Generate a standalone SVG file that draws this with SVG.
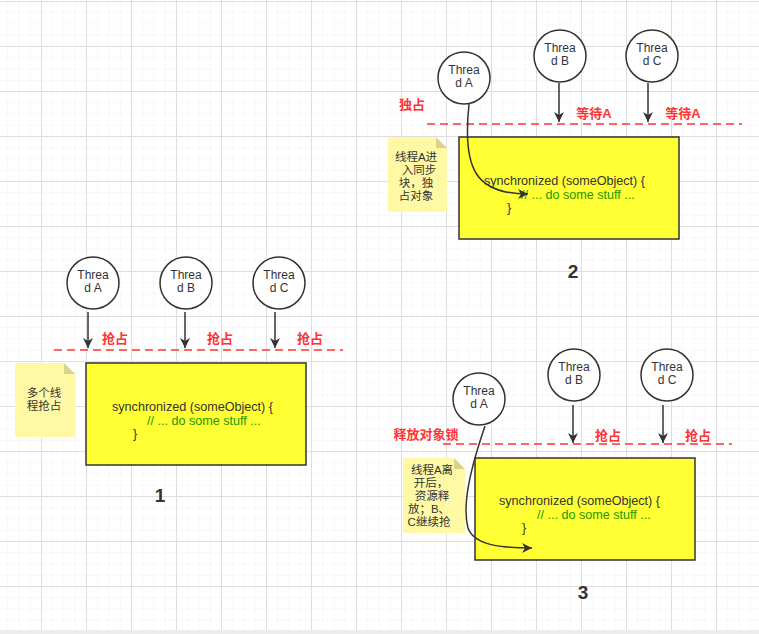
<svg xmlns="http://www.w3.org/2000/svg" width="759" height="634" viewBox="0 0 759 634">
<defs>
<pattern id="minor" x="41" y="1" width="11.25" height="11.25" patternUnits="userSpaceOnUse">
<path d="M0,0 V11.25 M0,0 H11.25" fill="none" stroke="#f0f0f0" stroke-width="1"/>
</pattern>
<pattern id="major" x="41" y="1" width="45" height="45" patternUnits="userSpaceOnUse">
<path d="M0.5,0 V45 M0,0.5 H45" fill="none" stroke="#dedede" stroke-width="1"/>
</pattern>
<marker id="arr" markerUnits="userSpaceOnUse" markerWidth="12" markerHeight="12" refX="10" refY="5" orient="auto">
<path d="M0,0 L10,5 L0,10 L3,5 Z" fill="#333"/>
</marker>
<style>
.th{fill:#fff;stroke:#333;stroke-width:1.5}
.tt{font-family:"Liberation Sans",Arial,sans-serif;font-size:12px;fill:#333;text-anchor:middle}
.lk{fill:#ffff33;stroke:#333;stroke-width:1.5}
.code{font-family:"Liberation Sans",Arial,sans-serif;font-size:12.6px;fill:#333}
.cm{fill:#229900}
.note{fill:#fff9a6}
.fold{fill:#d9d48a}
.nt{font-family:"Liberation Sans","Noto Sans CJK SC",sans-serif;font-size:11.5px;fill:#333;text-anchor:middle}
.red{font-family:"Liberation Sans","Noto Sans CJK SC",sans-serif;font-size:13px;font-weight:bold;fill:#ff3333;text-anchor:middle}
.dash{stroke:#ff3333;stroke-width:1.5;stroke-dasharray:8 5;fill:none}
.num{font-family:"Liberation Sans",Arial,sans-serif;font-size:19px;font-weight:bold;fill:#333;text-anchor:middle}
.ln{stroke:#333;stroke-width:1.5;fill:none;marker-end:url(#arr)}
</style>
</defs>
<rect width="759" height="634" fill="#fff"/>
<rect width="759" height="634" fill="url(#minor)"/>
<rect width="759" height="634" fill="url(#major)"/>
<rect x="0" y="630" width="759" height="4" fill="#ececec"/>

<!-- Stage 1 -->
<g id="s1-threadA"><circle class="th" cx="93" cy="283" r="26"/><text class="tt" x="93" y="279">Threa</text><text class="tt" x="93" y="292">d A</text></g>
<g id="s1-threadB"><circle class="th" cx="186" cy="283" r="26"/><text class="tt" x="186" y="279">Threa</text><text class="tt" x="186" y="292">d B</text></g>
<g id="s1-threadC"><circle class="th" cx="279" cy="283" r="26"/><text class="tt" x="279" y="279">Threa</text><text class="tt" x="279" y="292">d C</text></g>
<g id="s1-labels">
<line class="dash" x1="54" y1="350" x2="343" y2="350"/>
<text class="red" x="115" y="343">抢占</text>
<text class="red" x="220" y="343">抢占</text>
<text class="red" x="310" y="343">抢占</text>
</g>
<g id="s1-note"><path class="note" d="M15,363 H64 L75,374 V437 H15 Z"/><path class="fold" d="M64,363 L75,374 H64 Z"/>
<text class="nt" x="44" y="397">多个线</text><text class="nt" x="44" y="410">程抢占</text></g>
<g id="s1-block"><rect class="lk" x="86" y="363" width="220" height="102"/>
<text class="code" x="112" y="411">synchronized (someObject) {</text>
<text class="code cm" x="147" y="424.5">// ... do some stuff ...</text>
<text class="code" x="133" y="438">}</text></g>
<text class="num" x="160" y="502">1</text>

<!-- Stage 2 -->
<g id="s2-threadA"><circle class="th" cx="464" cy="78" r="26"/><text class="tt" x="464" y="74">Threa</text><text class="tt" x="464" y="87">d A</text></g>
<g id="s2-threadB"><circle class="th" cx="560" cy="56" r="26"/><text class="tt" x="560" y="52">Threa</text><text class="tt" x="560" y="65">d B</text></g>
<g id="s2-threadC"><circle class="th" cx="652" cy="56" r="26"/><text class="tt" x="652" y="52">Threa</text><text class="tt" x="652" y="65">d C</text></g>
<g id="s2-labels">
<line class="dash" x1="427" y1="124" x2="742" y2="124"/>
<text class="red" x="412" y="109">独占</text>
<text class="red" x="594" y="118">等待A</text>
<text class="red" x="683" y="118">等待A</text>
</g>
<g id="s2-note"><path class="note" d="M388,137 H436 L447,148 V212 H388 Z"/><path class="fold" d="M436,137 L447,148 H436 Z"/>
<text class="nt" x="416" y="161">线程A进</text><text class="nt" x="419" y="174">入同步</text><text class="nt" x="416" y="187">块，独</text><text class="nt" x="416" y="200">占对象</text></g>
<g id="s2-block"><rect class="lk" x="459" y="137" width="220" height="102"/>
<text class="code" x="484" y="185">synchronized (someObject) {</text>
<text class="code cm" x="521" y="198.5">// ... do some stuff ...</text>
<text class="code" x="507" y="212">}</text></g>
<text class="num" x="573" y="278">2</text>

<!-- Stage 3 -->
<g id="s3-threadA"><circle class="th" cx="479" cy="399" r="26"/><text class="tt" x="479" y="395">Threa</text><text class="tt" x="479" y="408">d A</text></g>
<g id="s3-threadB"><circle class="th" cx="574" cy="375" r="26"/><text class="tt" x="574" y="371">Threa</text><text class="tt" x="574" y="384">d B</text></g>
<g id="s3-threadC"><circle class="th" cx="667" cy="375" r="26"/><text class="tt" x="667" y="371">Threa</text><text class="tt" x="667" y="384">d C</text></g>
<g id="s3-labels">
<line class="dash" x1="443" y1="444" x2="732" y2="444"/>
<text class="red" x="426" y="439">释放对象锁</text>
<text class="red" x="608" y="440">抢占</text>
<text class="red" x="698" y="440">抢占</text>
</g>
<g id="s3-note"><path class="note" d="M403,458 H454 L465,469 V533 H403 Z"/><path class="fold" d="M454,458 L465,469 H454 Z"/>
<text class="nt" x="432" y="474">线程A离</text><text class="nt" x="431" y="487"> 开后，</text><text class="nt" x="432" y="500"> 资源释</text><text class="nt" x="429" y="513">放；B、</text><text class="nt" x="429" y="526">C继续抢</text></g>
<g id="s3-block"><rect class="lk" x="475" y="458" width="220" height="102"/>
<text class="code" x="499" y="505">synchronized (someObject) {</text>
<text class="code cm" x="537" y="518.5">// ... do some stuff ...</text>
<text class="code" x="522" y="532">}</text></g>
<text class="num" x="583" y="599">3</text>

<g id="connectors">
<line class="ln" x1="88" y1="312" x2="88" y2="348"/>
<line class="ln" x1="185" y1="312" x2="185" y2="348"/>
<line class="ln" x1="275" y1="312" x2="275" y2="348"/>
<line class="ln" x1="559" y1="83" x2="559" y2="122"/>
<line class="ln" x1="648" y1="83" x2="648" y2="122"/>
<path class="ln" d="M469,104 C462,170 476,194 528,194"/>
<line class="ln" x1="573" y1="405" x2="573" y2="443"/>
<line class="ln" x1="663" y1="405" x2="663" y2="443"/>
<path class="ln" d="M485,426 C470,470 462,505 468,528 C474,545 500,548 532,548"/>
</g>
</svg>
